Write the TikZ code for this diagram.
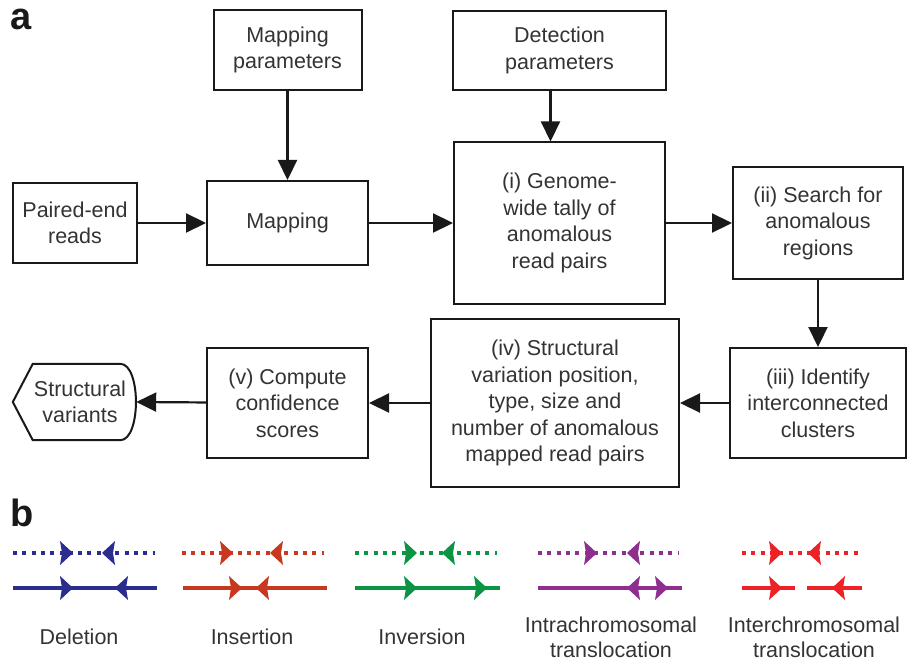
\documentclass[tikz,border=0pt]{standalone}
\usepackage{fontspec}
\setmainfont{Liberation Sans}
\usetikzlibrary{arrows.meta,positioning}

\definecolor{delcol}{HTML}{2B2D8E}
\definecolor{inscol}{HTML}{C8381F}
\definecolor{invcol}{HTML}{0B9444}
\definecolor{intracol}{HTML}{8E2F8F}
\definecolor{intercol}{HTML}{ED2227}

\tikzset{
  box/.style={draw=black!90,line width=2pt,align=center,inner sep=0pt,
    font=\fontsize{21.5}{26.5}\selectfont,text=black!80},
  flow/.style={line width=2.2pt,draw=black!90,-{Triangle[length=20pt,width=19pt]}},
  lbl/.style={font=\fontsize{21.5}{25}\selectfont,text=black!80,align=center},
  panel/.style={font=\fontsize{38}{38}\bfseries\selectfont,text=black!90},
  dots/.style={line width=4pt,dash pattern=on 4pt off 5.3pt},
  reads/.style={line width=4pt},
}

% read arrowheads: tip at (#1,#2)
\newcommand{\rhead}[2]{\fill (#1,#2) -- ++(-13,-12) -- ++(2,12) -- ++(-2,12) -- cycle;}
\newcommand{\lhead}[2]{\fill (#1,#2) -- ++(13,-12) -- ++(-2,12) -- ++(2,12) -- cycle;}

\begin{document}
\begin{tikzpicture}[x=1pt,y=-1pt]
\useasboundingbox (0,0) rectangle (907,663);

\node[panel] (pa) at (21,19) {a};
\node[panel] (pb) at (22,513) {b};

% part a
\node[box,minimum width=124pt,minimum height=80pt] (reads) at (75,223) {Paired-end\\reads};
\node[box,minimum width=148pt,minimum height=80pt] (mpar) at (287.5,50) {Mapping\\parameters};
\node[box,minimum width=161pt,minimum height=84pt] (map) at (287.5,223) {Mapping};
\node[box,minimum width=213pt,minimum height=79pt] (dpar) at (559.5,50.5) {Detection\\parameters};
\node[box,minimum width=211pt,minimum height=161pt] (tally) at (559.5,223) {(i) Genome-\\wide tally of\\anomalous\\read pairs};
\node[box,minimum width=170pt,minimum height=111pt] (search) at (818,223) {(ii) Search for\\anomalous\\regions};
\node[box,minimum width=176pt,minimum height=110pt] (clust) at (818,403) {(iii) Identify\\interconnected\\clusters};
\node[box,minimum width=248pt,minimum height=168pt] (sv) at (555,403) {(iv) Structural\\variation position,\\type, size and\\number of anomalous\\mapped read pairs};
\node[box,minimum width=161pt,minimum height=110pt] (score) at (287.5,403) {(v) Compute\\confidence\\scores};
\node[lbl,font=\fontsize{21.5}{26.5}\selectfont,minimum width=114pt,minimum height=76pt,inner sep=0pt] (out) at (80,402) {Structural\\variants};
\draw[line width=2pt,black!90] ([xshift=-10pt]out.west) -- ([xshift=10pt]out.north west)
  -- ([xshift=-17pt]out.north east)
  .. controls ([xshift=4pt]out.north east) and ([xshift=4pt]out.south east) .. ([xshift=-17pt]out.south east)
  -- ([xshift=10pt]out.south west) -- cycle;

\draw[flow] (reads) -- (map);
\draw[flow] (mpar) -- (map);
\draw[flow] (map) -- (tally);
\draw[flow] ([xshift=-9pt]dpar.south) -- ([xshift=-9pt]tally.north);
\draw[flow] (tally) -- (search);
\draw[flow] (search) -- (clust);
\draw[flow] (clust) -- (sv);
\draw[flow] (sv) -- (score);
\draw[flow] (score) -- ([xshift=-1pt]out.east);

% part b
\begin{scope}[color=delcol]
\draw[dots] (13,553) -- (155,553);
\rhead{73}{553} \lhead{102}{553}
\draw[reads] (13,588) -- (157,588);
\rhead{73}{588} \lhead{115}{588}
\end{scope}
\node[lbl] (del) at (79,637) {Deletion};

\begin{scope}[color=inscol]
\draw[dots] (182,553) -- (324,553);
\rhead{233}{553} \lhead{270}{553}
\draw[reads] (183,588) -- (327,588);
\rhead{242}{588} \lhead{256}{588}
\end{scope}
\node[lbl] (ins) at (252,637) {Insertion};

\begin{scope}[color=invcol]
\draw[dots] (355,553) -- (497,553);
\rhead{417}{553} \lhead{442}{553}
\draw[reads] (355,588) -- (500,588);
\rhead{417}{588} \rhead{487}{588}
\end{scope}
\node[lbl] (inv) at (422,637) {Inversion};

\begin{scope}[color=intracol]
\draw[dots] (538,553) -- (679,553);
\rhead{597}{553} \lhead{627}{553}
\draw[reads] (538,588) -- (682,588);
\lhead{627}{588} \rhead{668}{588}
\end{scope}
\node[lbl] (intra) at (611,637) {Intrachromosomal\\translocation};

\begin{scope}[color=intercol]
\draw[dots] (742,553) -- (860,553);
\rhead{782}{553} \lhead{808}{553}
\draw[reads] (742,588) -- (795,588);
\rhead{782}{588}
\draw[reads] (807,588) -- (862,588);
\lhead{832}{588}
\end{scope}
\node[lbl] (inter) at (814,637) {Interchromosomal\\translocation};

\end{tikzpicture}
\end{document}
